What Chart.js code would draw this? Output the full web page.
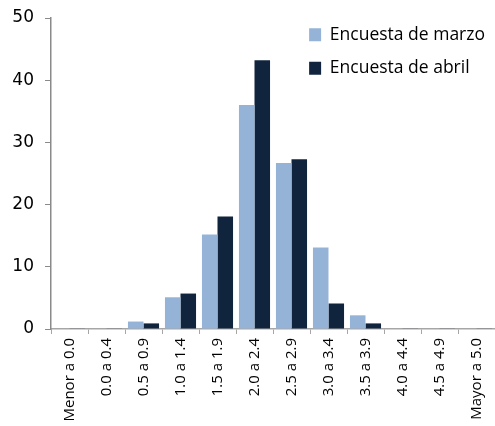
<!DOCTYPE html>
<html>
<head>
<meta charset="utf-8">
<script src="https://cdn.jsdelivr.net/npm/chart.js@4/dist/chart.umd.min.js"></script>
<style>
  html, body { margin: 0; padding: 0; background: #fff; }
  #wrap { width: 495px; height: 426px; }
</style>
</head>
<body>
<div id="wrap"><canvas id="histChart" width="495" height="426"></canvas></div>
<script>
const categories = ['Menor a 0.0', '0.0 a 0.4', '0.5 a 0.9', '1.0 a 1.4', '1.5 a 1.9', '2.0 a 2.4',
  '2.5 a 2.9', '3.0 a 3.4', '3.5 a 3.9', '4.0 a 4.4', '4.5 a 4.9', 'Mayor a 5.0'];
const marzo = [0, 0, 1.2, 5.1, 15.2, 36.0, 26.7, 13.1, 2.2, 0, 0, 0];
const abril = [0.1, 0.1, 0.9, 5.7, 18.1, 43.2, 27.3, 4.1, 0.9, 0.1, 0.1, 0.1];
const yTicks = [0, 10, 20, 30, 40, 50];

const axisGray = '#8a8a8a';

// legend sits inside the plot, top right
const legendRight = {
  id: 'legendRight',
  beforeDraw(chart) {
    const lg = chart.legend;
    const ca = chart.chartArea;
    const w = lg.width;
    lg.left = ca.right - w;
    lg.right = lg.left + w;
    lg.top = ca.top - 8;
  }
};

const ctx = document.getElementById('histChart').getContext('2d');
new Chart(ctx, {
  type: 'bar',
  data: {
    labels: categories,
    datasets: [
      { label: 'Encuesta de marzo', data: marzo, backgroundColor: '#95b3d7' },
      { label: 'Encuesta de abril', data: abril, backgroundColor: '#10243e' }
    ]
  },
  options: {
    responsive: false,
    animation: false,
    layout: { padding: { top: 18, right: -3, left: 0, bottom: 0 } },
    datasets: { bar: { categoryPercentage: 0.84, barPercentage: 1 } },
    plugins: {
      tooltip: { enabled: false },
      legend: {
        position: 'chartArea',
        align: 'start',
        labels: {
          boxWidth: 12,
          boxHeight: 13,
          padding: 16,
          color: '#000',
          font: { family: 'Open Sans', size: 17.5 }
        }
      }
    },
    scales: {
      x: {
        grid: { drawOnChartArea: false, drawTicks: true, tickLength: 5, color: '#a6a6a6', offset: true },
        border: { color: '#a6a6a6', width: 1.5 },
        ticks: {
          minRotation: 90, maxRotation: 90, autoSkip: false,
          color: '#000', padding: 4,
          font: { family: 'Open Sans', size: 15 }
        },
        afterFit: s => { s.height = 97; s.paddingLeft = 0; s.paddingRight = 0; }
      },
      y: {
        min: 0, max: 50,
        afterBuildTicks: s => { s.ticks = yTicks.map(v => ({ value: v })); },
        grid: { drawOnChartArea: false, drawTicks: true, tickLength: 6, color: axisGray },
        border: { color: axisGray, width: 1.5 },
        ticks: {
          color: '#000', padding: 11,
          font: { family: 'DejaVu Sans', size: 17 }
        },
        afterFit: s => { s.width = 51; s.paddingTop = 0; s.paddingBottom = 0; }
      }
    }
  },
  plugins: [legendRight]
});
</script>
</body>
</html>
